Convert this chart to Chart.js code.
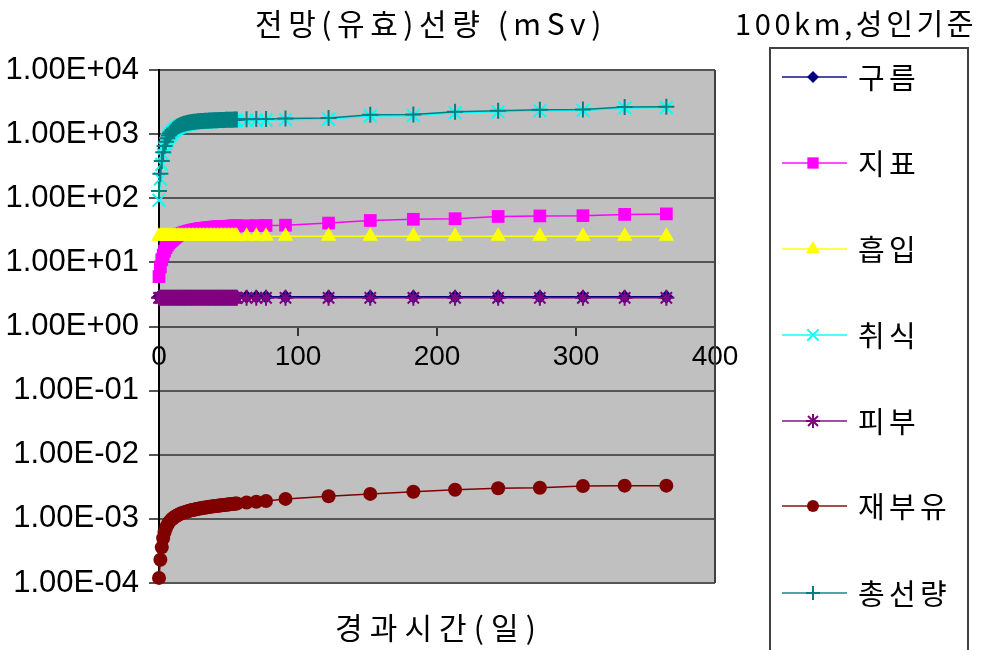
<!DOCTYPE html>
<html>
<head>
<meta charset="utf-8">
<script src="https://cdn.jsdelivr.net/npm/chart.js@4"></script>
<style>
  body { margin: 0; background: #fff; }
  #wrap { width: 985px; height: 650px; }
</style>
</head>
<body>
<div id="wrap"><canvas id="myChart" width="985" height="650"></canvas></div>
<script>
'use strict';
// elapsed days
const days = [0, 1, 2, 3, 4, 5, 6, 7, 8, 9, 10, 11, 12, 13, 14, 15, 16, 17, 18, 19,
  20, 21, 22, 23, 24, 25, 26, 27, 28, 29, 30, 31, 32, 33, 34, 35, 36, 37, 38, 39,
  40, 41, 42, 43, 44, 45, 46, 47, 48, 49, 50, 51, 52, 53, 54, 55, 56,
  63, 70, 77, 91, 122, 152, 183, 213, 244, 274, 305, 335, 365];

const seriesNames = ['구름', '지표', '흡입', '취식', '피부', '재부유', '총선량'];

const cloud = [2.9, 2.9, 2.9, 2.9, 2.9, 2.9, 2.9, 2.9, 2.9, 2.9, 2.9, 2.9, 2.9, 2.9, 2.9, 2.9, 2.9, 2.9, 2.9, 2.9,
  2.9, 2.9, 2.9, 2.9, 2.9, 2.9, 2.9, 2.9, 2.9, 2.9, 2.9, 2.9, 2.9, 2.9, 2.9, 2.9, 2.9, 2.9, 2.9, 2.9,
  2.9, 2.9, 2.9, 2.9, 2.9, 2.9, 2.9, 2.9, 2.9, 2.9, 2.9, 2.9, 2.9, 2.9, 2.9, 2.9, 2.9,
  2.9, 2.9, 2.9, 2.9, 2.9, 2.9, 2.9, 2.9, 2.9, 2.9, 2.9, 2.9, 2.9];

const ground = [6.0, 8.5, 11, 13, 15, 17, 18.5, 20, 21, 22, 23, 24, 25, 26, 27, 27.5, 28, 28.5, 29, 29.5,
  30, 30.4, 30.8, 31.2, 31.6, 32, 32.3, 32.6, 32.9, 33.2, 33.5, 33.7, 33.9, 34.1, 34.3, 34.5, 34.7, 34.9, 35.1, 35.3,
  35.5, 35.6, 35.7, 35.8, 35.9, 36, 36.1, 36.2, 36.3, 36.4, 36.5, 36.6, 36.7, 36.8, 36.9, 37, 37.1,
  37.3, 37.5, 37.7, 38, 41, 45, 47, 48, 52, 53, 53.5, 56, 57];

const inhal = [25.6, 25.6, 25.6, 25.6, 25.6, 25.6, 25.6, 25.6, 25.6, 25.6, 25.6, 25.6, 25.6, 25.6, 25.6, 25.6, 25.6, 25.6, 25.6, 25.6,
  25.6, 25.6, 25.6, 25.6, 25.6, 25.6, 25.6, 25.6, 25.6, 25.6, 25.6, 25.6, 25.6, 25.6, 25.6, 25.6, 25.6, 25.6, 25.6, 25.6,
  25.6, 25.6, 25.6, 25.6, 25.6, 25.6, 25.6, 25.6, 25.6, 25.6, 25.6, 25.6, 25.6, 25.6, 25.6, 25.6, 25.6,
  25.6, 25.6, 25.6, 25.6, 25.6, 25.6, 25.6, 25.6, 25.6, 25.6, 25.6, 25.6, 25.6];

const ingest = [93, 200, 338, 476, 604, 712, 810, 899, 978, 1047, 1106, 1155, 1204, 1243, 1282, 1311, 1341, 1370, 1390, 1409,
  1429, 1444, 1458, 1473, 1482, 1492, 1502, 1511, 1518, 1526, 1531, 1537, 1543, 1548, 1553, 1557, 1562, 1566, 1570, 1574,
  1577, 1581, 1584, 1587, 1590, 1593, 1596, 1599, 1602, 1605, 1607, 1610, 1612, 1615, 1618, 1620, 1622,
  1632, 1646, 1656, 1676, 1718, 1924, 1942, 2151, 2227, 2316, 2335, 2563, 2592];

const skin = [2.8, 2.8, 2.8, 2.8, 2.8, 2.8, 2.8, 2.8, 2.8, 2.8, 2.8, 2.8, 2.8, 2.8, 2.8, 2.8, 2.8, 2.8, 2.8, 2.8,
  2.8, 2.8, 2.8, 2.8, 2.8, 2.8, 2.8, 2.8, 2.8, 2.8, 2.8, 2.8, 2.8, 2.8, 2.8, 2.8, 2.8, 2.8, 2.8, 2.8,
  2.8, 2.8, 2.8, 2.8, 2.8, 2.8, 2.8, 2.8, 2.8, 2.8, 2.8, 2.8, 2.8, 2.8, 2.8, 2.8, 2.8,
  2.8, 2.8, 2.8, 2.8, 2.8, 2.8, 2.8, 2.8, 2.8, 2.8, 2.8, 2.8, 2.8];

const resusp = [1.2e-4, 2.3e-4, 3.6e-4, 5.0e-4, 6.2e-4, 7.2e-4, 8.0e-4, 8.7e-4, 9.3e-4, 9.8e-4,
  1.02e-3, 1.06e-3, 1.10e-3, 1.13e-3, 1.16e-3, 1.19e-3, 1.22e-3, 1.24e-3, 1.26e-3, 1.28e-3,
  1.30e-3, 1.32e-3, 1.34e-3, 1.36e-3, 1.37e-3, 1.39e-3, 1.40e-3, 1.42e-3, 1.43e-3, 1.45e-3,
  1.46e-3, 1.47e-3, 1.49e-3, 1.50e-3, 1.51e-3, 1.52e-3, 1.54e-3, 1.55e-3, 1.56e-3, 1.57e-3,
  1.58e-3, 1.59e-3, 1.60e-3, 1.61e-3, 1.62e-3, 1.63e-3, 1.64e-3, 1.65e-3, 1.66e-3, 1.67e-3,
  1.68e-3, 1.69e-3, 1.70e-3, 1.71e-3, 1.72e-3, 1.73e-3, 1.74e-3,
  1.80e-3, 1.85e-3, 1.9e-3, 2.05e-3, 2.25e-3, 2.45e-3, 2.65e-3, 2.85e-3, 3.0e-3, 3.05e-3, 3.25e-3, 3.3e-3, 3.3e-3];

const total = [130, 240, 380, 520, 650, 760, 860, 950, 1030, 1100, 1160, 1210, 1260, 1300, 1340, 1370, 1400, 1430, 1450, 1470,
  1490, 1505, 1520, 1535, 1545, 1555, 1565, 1575, 1582, 1590, 1596, 1602, 1608, 1613, 1618, 1623, 1628, 1632, 1636, 1640,
  1644, 1648, 1651, 1654, 1657, 1660, 1663, 1666, 1669, 1672, 1675, 1678, 1680, 1683, 1686, 1688, 1690,
  1700, 1715, 1725, 1745, 1790, 2000, 2020, 2230, 2310, 2400, 2420, 2650, 2680];

const yTicks = [1e-4, 1e-3, 1e-2, 1e-1, 1, 10, 100, 1000, 10000];
const yTickLabels = ['1.00E-04', '1.00E-03', '1.00E-02', '1.00E-01', '1.00E+00', '1.00E+01', '1.00E+02', '1.00E+03', '1.00E+04'];
const xTicks = [0, 100, 200, 300, 400];

const seriesValues = [cloud, ground, inhal, ingest, skin, resusp, total];
const seriesColors = ['#000080', '#ff00ff', '#ffff00', '#00ffff', '#800080', '#800000', '#008080'];
const seriesMarkers = ['rectRot', 'rect', 'triangle', 'crossRot', 'star', 'circle', 'cross'];
const markerSizes = [7, 9, 9, 9, 8, 7, 8];

function isStroked(m) {
  return m === 'crossRot' || m === 'star' || m === 'cross';
}

function makeDataset(i) {
  return {
    label: seriesNames[i],
    data: days.map((d, k) => ({ x: d, y: seriesValues[i][k] })),
    borderColor: seriesColors[i],
    backgroundColor: seriesColors[i],
    borderWidth: 1.5,
    pointStyle: seriesMarkers[i],
    pointRadius: markerSizes[i],
    pointBackgroundColor: seriesColors[i],
    pointBorderColor: seriesColors[i],
    pointBorderWidth: isStroked(seriesMarkers[i]) ? 2 : 0,
    tension: 0,
    clip: false,
    order: seriesNames.length - i
  };
}

function fitText(ctx, text, x, y, width, font) {
  ctx.font = font;
  ctx.letterSpacing = '0px';
  const w0 = ctx.measureText(text).width;
  const n = [...text].length;
  const sp = n > 1 ? (width - w0) / n : 0;
  ctx.letterSpacing = sp + 'px';
  ctx.fillText(text, x, y);
  ctx.letterSpacing = '0px';
}

const decor = {
  id: 'decor',
  beforeDraw(chart) {
    const { ctx, chartArea: a } = chart;
    ctx.save();
    ctx.fillStyle = '#c0c0c0';
    ctx.fillRect(a.left, a.top, a.right - a.left, a.bottom - a.top);
    ctx.restore();
  },
  beforeDatasetsDraw(chart) {
    const { ctx, chartArea: a } = chart;
    ctx.save();
    ctx.strokeStyle = '#404040';
    ctx.lineWidth = 2;
    ctx.beginPath();
    ctx.moveTo(a.right, a.top);
    ctx.lineTo(a.right, a.bottom);
    ctx.stroke();
    ctx.restore();
  },
  afterDraw(chart) {
    const ctx = chart.ctx;
    ctx.save();
    ctx.fillStyle = '#000';
    ctx.textBaseline = 'middle';
    ctx.textAlign = 'left';
    fitText(ctx, '전망(유효)선량 (mSv)', 255, 24, 352, '30px "Noto Sans CJK KR"');
    fitText(ctx, '100km,성인기준', 735, 24, 242, '29px "Noto Sans CJK KR"');
    fitText(ctx, '경과시간(일)', 335, 628, 208, '30px "Noto Sans CJK KR"');

    // legend box
    ctx.strokeStyle = '#404040';
    ctx.lineWidth = 2;
    ctx.beginPath();
    ctx.moveTo(770, 660);
    ctx.lineTo(770, 48);
    ctx.lineTo(968, 48);
    ctx.lineTo(968, 660);
    ctx.stroke();

    const rowY = [77, 163, 249, 335, 421, 506, 593];
    for (let i = 0; i < seriesNames.length; i++) {
      const y = rowY[i];
      ctx.strokeStyle = seriesColors[i];
      ctx.globalAlpha = 0.7;
      ctx.lineWidth = 2;
      ctx.beginPath();
      ctx.moveTo(782, y);
      ctx.lineTo(847, y);
      ctx.stroke();
      ctx.globalAlpha = 1;
      ctx.fillStyle = seriesColors[i];
      ctx.strokeStyle = seriesColors[i];
      Chart.helpers.drawPoint(ctx, {
        pointStyle: seriesMarkers[i],
        radius: markerSizes[i] - 1,
        rotation: 0,
        borderWidth: isStroked(seriesMarkers[i]) ? 2 : 0
      }, 813, y);
      ctx.fillStyle = '#000';
      ctx.textBaseline = 'middle';
      const name = seriesNames[i];
      fitText(ctx, name, 858, y + 1, name.length * 31, '29px "Noto Sans CJK KR"');
    }
    ctx.restore();
  }
};

const chart = new Chart(document.getElementById('myChart').getContext('2d'), {
  type: 'line',
  data: { datasets: seriesNames.map((n, i) => makeDataset(i)) },
  options: {
    responsive: false,
    animation: false,
    layout: { padding: { left: 0, right: 270, top: 70, bottom: 67 } },
    plugins: {
      legend: { display: false },
      tooltip: { enabled: false },
      title: { display: false }
    },
    scales: {
      x: {
        type: 'linear',
        position: { y: 1 },
        min: 0,
        max: 400,
        afterBuildTicks(scale) { scale.ticks = xTicks.map(v => ({ value: v })); },
        ticks: {
          color: '#000',
          font: { family: '"Liberation Sans", Arial', size: 28 },
          padding: 6,
          maxRotation: 0
        },
        grid: { drawOnChartArea: false, tickLength: 8, color: '#333', lineWidth: 2 },
        border: { color: '#505050', width: 2 }
      },
      y: {
        type: 'logarithmic',
        position: 'left',
        min: 1e-4,
        max: 1e4,
        afterBuildTicks(scale) { scale.ticks = yTicks.map(v => ({ value: v })); },
        afterFit(scale) { scale.width = 159; },
        ticks: {
          color: '#000',
          font: { family: '"Liberation Sans", Arial', size: 31 },
          padding: 10,
          callback: (v, i) => yTickLabels[i]
        },
        grid: { color: '#555', lineWidth: 2, tickLength: 10 },
        border: { color: '#000', width: 2 }
      }
    }
  },
  plugins: [decor]
});
</script>
</body>
</html>
